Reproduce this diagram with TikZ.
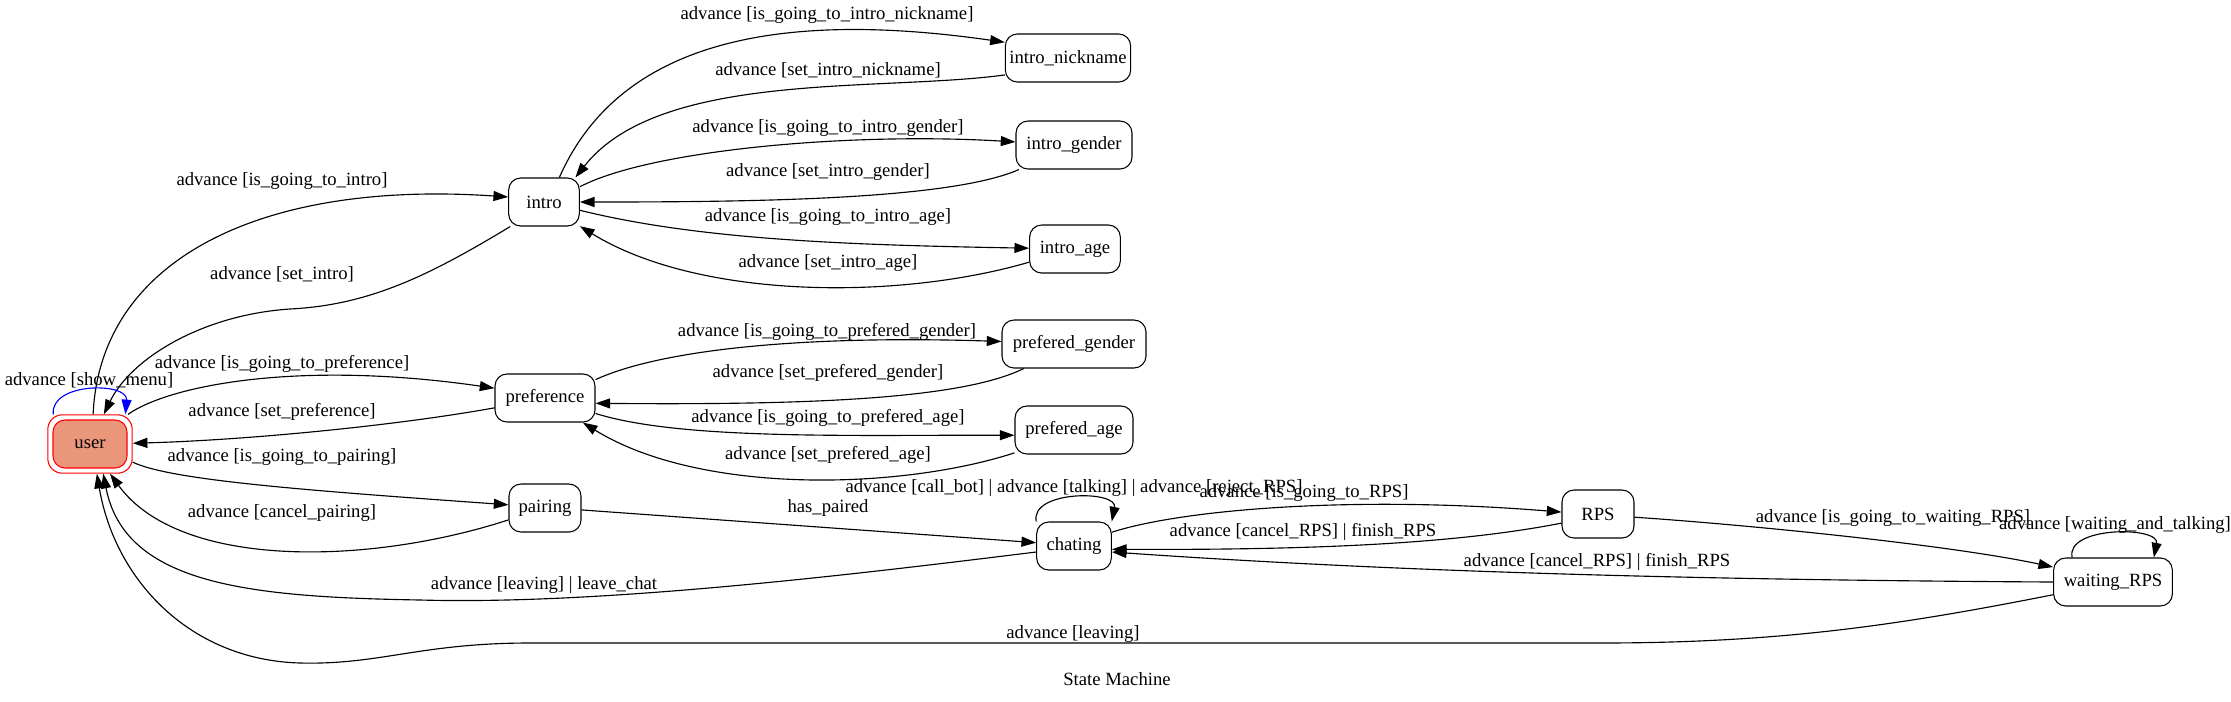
\documentclass[tikz,border=0pt]{standalone}
\usepackage{fontspec}
\setmainfont{Liberation Serif}
\usetikzlibrary{arrows.meta,fit}
\definecolor{usersalmon}{RGB}{233,150,122}
\begin{document}
\begin{tikzpicture}[x=0.75pt,y=-0.75pt,
                font=\fontsize{14pt}{16pt}\selectfont,
                st/.style={draw,rounded corners=9pt,minimum height=36pt,inner xsep=2pt,line width=0.8pt},
                lbl/.style={inner sep=0pt},
                tr/.style={-{Triangle[length=11pt,width=7.5pt]},line width=0.85pt}]
                \useasboundingbox (0,0) rectangle (2231,701);
                \node[st,draw=red,fill=usersalmon,minimum width=55.5pt] (user) at (90,444) {user};
                \node[draw=red,rounded corners=11pt,fit=(user),inner sep=3.5pt,line width=0.8pt] (userbox) {};
                \node[st,minimum width=53pt] (intro) at (544,202) {intro};
                \node[st,minimum width=94pt] (nick) at (1068,58) {intro\_nickname};
                \node[st,minimum width=87pt] (igender) at (1074,145) {intro\_gender};
                \node[st,minimum width=68pt] (iage) at (1075,249) {intro\_age};
                \node[st,minimum width=75pt] (pref) at (545,398) {preference};
                \node[st,minimum width=108pt] (pgender) at (1074,344) {prefered\_gender};
                \node[st,minimum width=88.5pt] (page) at (1074,430) {prefered\_age};
                \node[st,minimum width=54pt] (pairing) at (545,508) {pairing};
                \node[st,minimum width=56pt] (chating) at (1074,546) {chating};
                \node[st,minimum width=54pt] (rps) at (1598,514) {RPS};
                \node[st,minimum width=89pt] (wrps) at (2113,582) {waiting\_RPS};
                \draw[tr] (userbox.84) .. controls (100,260) and (260,180) .. (intro.172);
                \draw[tr] (intro.216) .. controls (430,275) and (370,305) .. (290,309) .. controls (200,315) and (130,360) .. (userbox.65);
                \draw[tr,blue] (userbox.141) .. controls (50,382) and (128,382) .. (userbox.40);
                \draw[tr] (userbox.38) .. controls (170,385) and (300,360) .. (pref.169);
                \draw[tr] (pref.191) .. controls (400,425) and (250,440) .. (userbox.1);
                \draw[tr] (userbox.337) .. controls (170,480) and (300,490) .. (pairing.175);
                \draw[tr] (pairing.198) .. controls (370,565) and (180,570) .. (userbox.304);
                \draw[tr] (chating.189) .. controls (850,575) and (600,605) .. (420,600) .. controls (250,597) and (125,585) .. (userbox.294);
                \draw[tr] (wrps.192) .. controls (1900,625) and (1780,643) .. (1600,643) -- (530,643) .. controls (420,643) and (380,665) .. (300,663) .. controls (190,660) and (115,580) .. (userbox.283);
                \draw[tr] (pairing.357) -- (chating.175);
                \draw[tr] (intro.58) .. controls (620,40) and (780,10) .. (nick.166);
                \draw[tr] (nick.195) .. controls (880,92) and (660,70) .. (intro.38);
                \draw[tr] (intro.23) .. controls (650,150) and (850,132) .. (igender.177);
                \draw[tr] (igender.204) .. controls (950,200) and (750,202) .. (intro.0);
                \draw[tr] (intro.347) .. controls (700,240) and (850,245) .. (iage.179);
                \draw[tr] (iage.196) .. controls (900,300) and (700,300) .. (intro.326);
                \draw[tr] (pref.20) .. controls (660,350) and (800,335) .. (pgender.178);
                \draw[tr] (pgender.206) .. controls (960,400) and (800,405) .. (pref.354);
                \draw[tr] (pref.343) .. controls (680,440) and (850,435) .. (page.185);
                \draw[tr] (page.201) .. controls (900,490) and (700,495) .. (pref.327);
                \draw[tr] (chating.147) .. controls (1030,490) and (1118,490) .. (chating.33);
                \draw[tr] (chating.20) .. controls (1180,510) and (1350,495) .. (rps.177);
                \draw[tr] (rps.194) .. controls (1450,545) and (1300,550) .. (chating.355);
                \draw[tr] (wrps.180) .. controls (1700,580) and (1400,572) .. (chating.351);
                \draw[tr] (rps.355) .. controls (1750,525) and (1950,545) .. (wrps.166);
                \draw[tr] (wrps.149) .. controls (2065,526) and (2160,526) .. (wrps.31);
                \node[lbl] (lGoIntro) at (282,181) {advance [is\_going\_to\_intro]};
                \node[lbl] (lSetIntro) at (282,274) {advance [set\_intro]};
                \node[lbl] (lMenu) at (89,380) {advance [show\_menu]};
                \node[lbl] (lGoPref) at (282,364) {advance [is\_going\_to\_preference]};
                \node[lbl] (lSetPref) at (282,412) {advance [set\_preference]};
                \node[lbl] (lGoPair) at (282,457) {advance [is\_going\_to\_pairing]};
                \node[lbl] (lCancelPair) at (282,513) {advance [cancel\_pairing]};
                \node[lbl] (lLeaveChat) at (544,585) {advance [leaving] | leave\_chat};
                \node[lbl] (lLeaving) at (1073,634) {advance [leaving]};
                \node[lbl] (lPaired) at (828,508) {has\_paired};
                \node[lbl] (lGoNick) at (827,15) {advance [is\_going\_to\_intro\_nickname]};
                \node[lbl] (lSetNick) at (828,70) {advance [set\_intro\_nickname]};
                \node[lbl] (lGoIGender) at (828,128) {advance [is\_going\_to\_intro\_gender]};
                \node[lbl] (lSetIGender) at (828,172) {advance [set\_intro\_gender]};
                \node[lbl] (lGoIAge) at (828,217) {advance [is\_going\_to\_intro\_age]};
                \node[lbl] (lSetIAge) at (828,263) {advance [set\_intro\_age]};
                \node[lbl] (lGoPGender) at (827,332) {advance [is\_going\_to\_prefered\_gender]};
                \node[lbl] (lSetPGender) at (828,373) {advance [set\_prefered\_gender]};
                \node[lbl] (lGoPAge) at (828,418) {advance [is\_going\_to\_prefered\_age]};
                \node[lbl] (lSetPAge) at (828,455) {advance [set\_prefered\_age]};
                \node[lbl] (lChatLoop) at (1074,488) {advance [call\_bot] | advance [talking] | advance [reject\_RPS]};
                \node[lbl] (lGoRPS) at (1304,493) {advance [is\_going\_to\_RPS]};
                \node[lbl] (lCancelRPS) at (1303,532) {advance [cancel\_RPS] | finish\_RPS};
                \node[lbl] (lCancelWait) at (1597,562) {advance [cancel\_RPS] | finish\_RPS};
                \node[lbl] (lGoWait) at (1893,518) {advance [is\_going\_to\_waiting\_RPS]};
                \node[lbl] (lWaitLoop) at (2115,525) {advance [waiting\_and\_talking]};
                \node[lbl] (title) at (1117,679) {State Machine};
\end{tikzpicture}
\end{document}
